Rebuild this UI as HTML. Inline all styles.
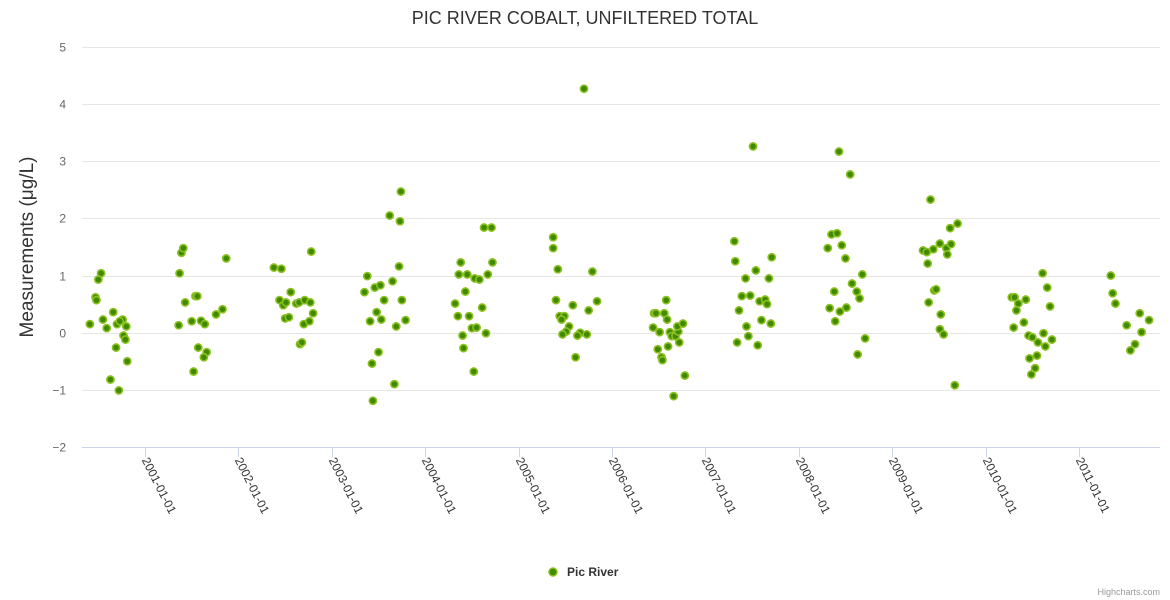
<!DOCTYPE html>
<html><head><meta charset="utf-8"><style>
html,body{margin:0;padding:0;background:#fff;}
svg{display:block;font-family:"Liberation Sans",sans-serif;}
</style></head><body>
<svg id="chart" width="1170" height="600" viewBox="0 0 1170 600">
<text x="585" y="24" text-anchor="middle" font-size="18" fill="#333">PIC RIVER COBALT, UNFILTERED TOTAL</text>
<g id="grid"></g>
<g id="yticks"></g>
<g id="xticks"></g>
<text transform="translate(33,247) rotate(-90)" text-anchor="middle" font-size="19" fill="#333">Measurements (μg/L)</text>
<g id="points"></g>
<g>
<circle cx="553" cy="572" r="4" fill="#3f8a00" stroke="#8cc020" stroke-width="1.5"/>
<text x="567" y="576" font-size="12" font-weight="bold" fill="#333">Pic River</text>
</g>
<text x="1160" y="595" text-anchor="end" font-size="9" fill="#999">Highcharts.com</text>
</svg>
<script>
const yTicks=[-2,-1,0,1,2,3,4,5];
const xTickYears=[2001,2002,2003,2004,2005,2006,2007,2008,2009,2010,2011];
const xTickLabels=["2001-01-01","2002-01-01","2003-01-01","2004-01-01","2005-01-01","2006-01-01","2007-01-01","2008-01-01","2009-01-01","2010-01-01","2011-01-01"];
const dates=[
2000.41,2000.53,2000.50,2000.47,2000.48,2000.55,2000.59,2000.66,2000.70,2000.76,2000.73,2000.80,2000.77,2000.79,2000.69,2000.81,2000.63,2000.72,
2001.36,2001.37,2001.39,2001.41,2001.43,2001.54,2001.56,2001.50,2001.60,2001.64,2001.57,2001.66,2001.63,2001.52,2001.76,2001.83,2001.87,
2002.38,2002.46,2002.78,2002.56,2002.44,2002.48,2002.51,2002.62,2002.65,2002.71,2002.77,2002.80,2002.50,2002.54,2002.70,2002.76,2002.66,2002.68,
2003.74,2003.62,2003.73,2003.72,2003.38,2003.35,2003.46,2003.52,2003.65,2003.56,2003.75,2003.48,2003.41,2003.53,2003.69,2003.79,2003.50,2003.43,2003.67,2003.44,
2004.63,2004.71,2004.38,2004.72,2004.36,2004.45,2004.53,2004.58,2004.67,2004.43,2004.32,2004.61,2004.35,2004.47,2004.50,2004.55,2004.40,2004.65,2004.41,2004.52,
2005.37,2005.37,2005.42,2005.79,2005.40,2005.84,2005.58,2005.75,2005.44,2005.49,2005.46,2005.54,2005.51,2005.47,2005.66,2005.63,2005.73,2005.61,2005.70,
2006.58,2006.45,2006.47,2006.56,2006.59,2006.44,2006.51,2006.62,2006.64,2006.68,2006.71,2006.70,2006.76,2006.72,2006.60,2006.49,2006.53,2006.54,2006.78,2006.66,
2007.51,2007.31,2007.32,2007.71,2007.54,2007.43,2007.68,2007.39,2007.48,2007.58,2007.64,2007.66,2007.36,2007.60,2007.70,2007.44,2007.46,2007.34,2007.56,
2008.43,2008.55,2008.35,2008.41,2008.31,2008.46,2008.50,2008.68,2008.57,2008.38,2008.62,2008.65,2008.33,2008.51,2008.44,2008.39,2008.71,2008.63,
2009.41,2009.70,2009.62,2009.33,2009.37,2009.44,2009.51,2009.58,2009.63,2009.59,2009.38,2009.45,2009.47,2009.39,2009.52,2009.51,2009.55,2009.67,
2010.61,2010.66,2010.28,2010.31,2010.43,2010.35,2010.33,2010.69,2010.30,2010.41,2010.46,2010.50,2010.62,2010.56,2010.64,2010.71,2010.55,2010.47,2010.53,2010.49,
2011.34,2011.36,2011.39,2011.65,2011.75,2011.51,2011.67,2011.60,2011.55];
const values=[
0.15,1.04,0.93,0.62,0.57,0.23,0.08,0.36,0.15,0.23,0.20,0.11,-0.05,-0.12,-0.26,-0.50,-0.82,-1.01,
0.13,1.04,1.40,1.48,0.53,0.64,0.64,0.20,0.21,0.15,-0.26,-0.34,-0.43,-0.68,0.32,0.41,1.30,
1.14,1.12,1.42,0.71,0.57,0.48,0.53,0.51,0.53,0.57,0.53,0.34,0.25,0.27,0.15,0.20,-0.20,-0.17,
2.47,2.05,1.95,1.16,0.99,0.71,0.79,0.83,0.90,0.57,0.57,0.36,0.20,0.23,0.11,0.22,-0.34,-0.54,-0.90,-1.19,
1.84,1.84,1.23,1.23,1.02,1.02,0.95,0.93,1.02,0.72,0.51,0.44,0.29,0.29,0.08,0.09,-0.05,-0.01,-0.27,-0.68,
1.67,1.48,1.11,1.07,0.57,0.55,0.48,0.39,0.29,0.29,0.23,0.11,0.02,-0.03,0.00,-0.05,-0.03,-0.43,4.27,
0.57,0.34,0.34,0.34,0.23,0.09,0.01,0.01,-0.06,-0.06,0.02,0.11,0.16,-0.17,-0.24,-0.29,-0.43,-0.48,-0.75,-1.11,
3.26,1.60,1.25,1.32,1.09,0.95,0.95,0.64,0.65,0.55,0.58,0.50,0.39,0.22,0.16,0.11,-0.06,-0.17,-0.22,
3.17,2.77,1.72,1.74,1.48,1.53,1.30,1.02,0.86,0.72,0.72,0.60,0.43,0.44,0.37,0.20,-0.10,-0.38,
2.33,1.91,1.83,1.44,1.41,1.46,1.56,1.48,1.55,1.37,1.21,0.74,0.76,0.53,0.32,0.06,-0.03,-0.92,
1.04,0.79,0.62,0.62,0.58,0.51,0.39,0.46,0.09,0.18,-0.05,-0.08,-0.01,-0.17,-0.24,-0.12,-0.40,-0.45,-0.62,-0.73,
1.00,0.69,0.51,0.34,0.22,0.13,0.01,-0.20,-0.31];

const NS="http://www.w3.org/2000/svg";
const plotL=82,plotR=1160,plotT=47,plotB=447;
const yMin=-2,yMax=5;
function yScale(v){return plotB-(v-yMin)/(yMax-yMin)*(plotB-plotT);}
function xScale(yr){return 145+(yr-2001)*93.4;}
function mk(tag,attrs,parent){const e=document.createElementNS(NS,tag);for(const k in attrs)e.setAttribute(k,attrs[k]);parent.appendChild(e);return e;}

const grid=document.getElementById('grid'),yt=document.getElementById('yticks'),xt=document.getElementById('xticks'),pts=document.getElementById('points');
yTicks.forEach(v=>{
  const y=Math.round(yScale(v))+0.5;
  const l=mk('line',{x1:plotL,x2:plotR,y1:y,y2:y,stroke:v===yMin?'#ccd6eb':'#e6e6e6','stroke-width':1},grid);
  
  
  const t=mk('text',{x:66,y:y+4,'text-anchor':'end','font-size':12,fill:'#666'},yt);
  t.textContent=(v<0?'\u2212'+(-v):String(v));
  
  
});
xTickYears.forEach((yr,i)=>{
  const x=Math.round(xScale(yr))+0.5;
  const tk=mk('line',{x1:x,x2:x,y1:plotB,y2:plotB+10,stroke:'#ccd6eb'},xt);
  
  
  const t=mk('text',{transform:`translate(${x-4},${plotB+13}) rotate(63)`,'font-size':12,fill:'#333'},xt);
  t.textContent=xTickLabels[i];
  
  
});
dates.forEach((d,i)=>{
  const c=mk('circle',{cx:xScale(d),cy:yScale(values[i]),r:3.6,fill:'#3f8a00',stroke:'#8cc020','stroke-width':1.6},pts);
  
  
});
</script>
</body></html>
